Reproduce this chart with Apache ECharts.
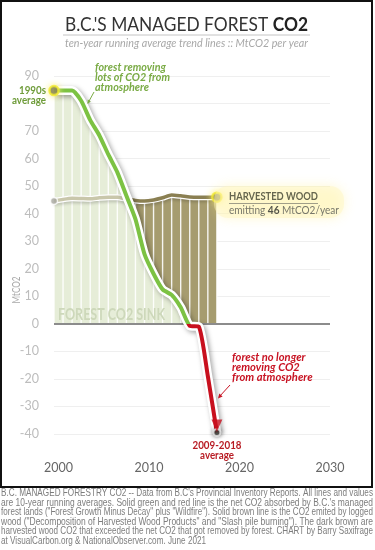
<!DOCTYPE html>
<html><head><meta charset="utf-8">
<script src="https://cdn.jsdelivr.net/npm/echarts@6/dist/echarts.min.js"></script>
<style>html,body{margin:0;padding:0;background:#fff;}#c{width:375px;height:550px;}</style>
</head><body><div id="c"></div>
<script>
// ---- DATA ----
const years = [2000,2001,2002,2003,2004,2005,2006,2007,2008,2009,2010,2011,2012,2013,2014,2015,2016,2017,2018];
const netForestCO2 = [84.7,84.7,84.7,81,74,68.5,61.5,55,46.5,38,25.3,18.2,12.5,10.5,6,-0.7,-1.0,-19,-39.5];
const harvestedWoodCO2 = [44.6,45.2,45.6,45.5,45.4,45.8,46.0,46.0,45.4,44.8,44.6,45.0,45.8,46.8,46.5,46.1,46.0,46.0,46.0];
const xTickLabels = [2000, 2010, 2020, 2030];
const yTickMin = -40, yTickMax = 90, yTickStep = 10;
const hiddenYLabel = 80;
const brownDarkFromYear = 2008.5;
const footnoteLines = [
  "B.C. MANAGED FORESTRY CO2 -- Data from B.C's Provincial Inventory Reports. All lines and values",
  "are 10-year running averages. Solid green and red line is the net CO2 absorbed by B.C.'s managed",
  "forest lands (\"Forest Growth Minus Decay\" plus \"Wildfire\"). Solid brown line is the CO2 emited by logged",
  "wood (\"Decomposition of Harvested Wood Products\" and \"Slash pile burning\"). The dark brown are",
  "harvested wood CO2 that exceeded the net CO2 that got removed by forest. CHART by Barry Saxifrage",
  "at VisualCarbon.org & NationalObserver.com. June 2021"
];

// running averages are plotted half a year before the end year
const X_SHIFT = -0.5;
const greenPts = years.map((y,i)=>[y+X_SHIFT, netForestCO2[i]]);
const greenAreaPts = years.map((y,i)=>[y+X_SHIFT, Math.max(0, netForestCO2[i])]);
const brownPts = years.map((y,i)=>[y+X_SHIFT, harvestedWoodCO2[i]]);
const stripePts = years.map((y,i)=>[y+X_SHIFT, Math.max(0, netForestCO2[i], harvestedWoodCO2[i])]);
const last = years.length-1;

// ---- text helpers ----
const mctx = document.createElement('canvas').getContext('2d');
function tw(text, font){ mctx.font = font; return mctx.measureText(text).width; }
function T(x, y, text, font, fill, o){
  o = o || {};
  const w = tw(text, font);
  const sx = o.width ? o.width / w : (o.scale || 1);
  return {type:'text', x, y, scaleX: sx, rotation: o.rotation || 0, z: 100, silent: true,
    style:{text, font, fill, textAlign: o.align || 'left', textVerticalAlign: 'middle'}};
}
function block(x, y0, lh, lines, font, fill, width, align){
  const ws = lines.map(l=>tw(l, font));
  const s = width / Math.max(...ws);
  return lines.map((l,i)=>T(x, y0+i*lh, l, font, fill, {scale:s, align}));
}
function segs(x, y, parts, width){
  const ws = parts.map(p=>tw(p.text, p.font));
  const s = width / ws.reduce((a,b)=>a+b,0);
  let cx = x; const out = [];
  parts.forEach((p,i)=>{ out.push(T(cx, y, p.text, p.font, p.fill, {scale:s})); cx += ws[i]*s; });
  return out;
}

const LATO = 'Lato, "Open Sans", sans-serif';
const graphics = [];
graphics.push({type:'rect', z: 100, silent:true, shape:{x:1,y:1,width:371,height:486}, style:{fill:'none', stroke:'#111', lineWidth:2}});
graphics.push(...segs(65, 25, [
  {text:"B.C.'S MANAGED FOREST ", font:'19px '+LATO, fill:'#333'},
  {text:'CO2', font:'bold 19px '+LATO, fill:'#222'}
], 243));
graphics.push({type:'line', z:100, silent:true, shape:{x1:63,y1:35,x2:310,y2:35}, style:{stroke:'#c4c4c4', lineWidth:1}});
graphics.push(T(65, 43.5, 'ten-year running average trend lines :: MtCO2 per year', 'italic 11px '+LATO, '#a8a8a8', {width:243}));
graphics.push(T(17, 290, 'MtCO2', '10.5px '+LATO, '#a8a8a8', {width:27, align:'center', rotation:Math.PI/2}));
graphics.push(...block(95, 67, 10.3, ['forest removing','lots of CO2 from','atmosphere'], 'italic bold 11.5px '+LATO, '#7aab45', 75));
graphics.push({type:'line', z:100, silent:true, shape:{x1:94,y1:92,x2:88,y2:103}, style:{stroke:'#7aab45', lineWidth:1}});
graphics.push({type:'polygon', z:100, silent:true, shape:{points:[[87.5,104],[87.8,99.5],[90.8,101.5]]}, style:{fill:'#7aab45'}});
graphics.push(...block(46, 90, 10, ['1990s','average'], 'bold 11px '+LATO, '#6f9c3a', 34, 'right'));
graphics.push({type:'rect', z:99, silent:true, shape:{x:214,y:186,width:130,height:32,r:14}, style:{fill:'rgba(255,246,190,0.45)', shadowBlur:12, shadowColor:'rgba(255,236,120,0.7)'}});
graphics.push(T(229, 196, 'HARVESTED WOOD', 'bold 11.5px '+LATO, '#66664f', {width:89}));
graphics.push({type:'line', z:100, silent:true, shape:{x1:229,y1:203.5,x2:318,y2:203.5}, style:{stroke:'#a09e88', lineWidth:1}});
graphics.push(...segs(229, 210, [
  {text:'emitting ', font:'11.5px '+LATO, fill:'#77776a'},
  {text:'46', font:'bold 11.5px '+LATO, fill:'#55554a'},
  {text:' MtCO2/year', font:'11.5px '+LATO, fill:'#77776a'}
], 110));
graphics.push(T(58, 314.5, 'FOREST CO2 SINK', 'bold 17px '+LATO, '#cdd8ba', {width:107}));
graphics.push(...block(232, 357, 10, ['forest no longer','removing CO2','from atmosphere'], 'italic bold 11.5px '+LATO, '#c81424', 80.6));
graphics.push({type:'line', z:100, silent:true, shape:{x1:230,y1:385,x2:219.5,y2:396.5}, style:{stroke:'#c81424', lineWidth:1}});
graphics.push({type:'polygon', z:100, silent:true, shape:{points:[[218,398.5],[219.3,393.5],[222.6,396.6]]}, style:{fill:'#c81424'}});
graphics.push(...block(217, 445, 9.8, ['2009-2018','average'], 'bold 11.5px '+LATO, '#b81c24', 49, 'center'));
const fnFont = '10.5px "Liberation Sans", Arial, sans-serif';
footnoteLines.forEach((l,i)=>{
  const isLast = i === footnoteLines.length-1;
  graphics.push(T(1, 493.5 + i*9.45, l, fnFont, '#7d7d7d', {width: isLast ? 205 : 372}));
});

const shadowGrey = 'rgba(0,0,0,0.35)';
const option = {
  animation: false,
  backgroundColor: '#fff',
  grid: {left: 54, right: 45, top: 76, bottom: 116, containLabel: false},
  xAxis: {
    type: 'value', min: 1999.5, max: 2030,
    axisLine: {show: false}, axisTick: {show: false}, splitLine: {show: false},
    axisLabel: {customValues: xTickLabels, formatter: v => String(v), color: '#666', fontSize: 12.5, fontFamily: LATO, margin: 27}
  },
  yAxis: {
    type: 'value', min: yTickMin, max: yTickMax, interval: yTickStep,
    axisLine: {show: false}, axisTick: {show: false},
    splitLine: {lineStyle: {color: '#efefef', width: 1}},
    axisLabel: {color: '#bdbdbd', fontSize: 12.5, fontFamily: LATO, margin: 15,
      formatter: v => v === hiddenYLabel ? '' : String(v)}
  },
  series: [
    {id:'brownArea', type:'line', data: brownPts, smooth: 0.2, symbol:'none', z:1, silent:true,
      lineStyle:{width:0}, areaStyle:{color:'#a69c6f', opacity:1}},
    {id:'greenArea', type:'line', data: greenAreaPts, smooth: 0.2, symbol:'none', z:2, silent:true,
      lineStyle:{width:0}, areaStyle:{color:'#e6edd8', opacity:1}},
    {id:'stripes', type:'bar', data: stripePts, barWidth: 1.4, z:3, silent:true,
      itemStyle:{color:'rgba(255,255,255,0.9)'},
      markLine:{silent:true, symbol:'none', label:{show:false},
        lineStyle:{color:'#8c8c8c', width:2, type:'solid'}, data:[{yAxis:0}]}},
    {id:'brownHalo', type:'line', data: brownPts, smooth: 0.2, symbol:'none', z:4, silent:true,
      lineStyle:{color:'#ffffff', width:6, shadowColor:'rgba(0,0,0,0.18)', shadowBlur:3, shadowOffsetY:2}},
    {id:'brownLine', type:'line', data: brownPts, smooth: 0.2, symbol:'none', z:5, silent:true,
      lineStyle:{width:3.5, color:'#8a7f52'}},
    {id:'greenHalo', type:'line', data: greenPts, smooth: 0.2, symbol:'none', z:6, silent:true,
      lineStyle:{color:'#ffffff', width:9, shadowColor: shadowGrey, shadowBlur:5, shadowOffsetX:2, shadowOffsetY:2}},
    {id:'greenLine', type:'line', data: greenPts, smooth: 0.2, symbol:'none', z:7, silent:true,
      lineStyle:{width:4, color:'#7cc243'}},
    {id:'dots', type:'scatter', z:8, silent:true, symbolSize: 8,
      data: [
        {value: brownPts[0], symbolSize: 7, itemStyle:{color:'#a8a8a0', borderColor:'#fff', borderWidth:1.5}},
        {value: greenPts[last], symbolSize: 7, itemStyle:{color:'#4a4a44', borderColor:'#e8e8e8', borderWidth:2, shadowBlur:4, shadowColor:'rgba(0,0,0,0.4)'}},
        {value: greenPts[0], symbolSize: 9, itemStyle:{color:'#48483c', borderColor:'#f3eb2c', borderWidth:2.5, shadowBlur:6, shadowColor:'#fff27a'}},
        {value: brownPts[last], symbolSize: 9, itemStyle:{color:'#48483c', borderColor:'#f3eb2c', borderWidth:2.5, shadowBlur:6, shadowColor:'#fff27a'}}
      ]},
    {id:'arrow', type:'scatter', z:9, silent:true,
      data: [{value: greenPts[last]}],
      symbol: 'path://M0,0 L12,0 L6,13 Z', symbolSize: [11, 12], symbolOffset: [0, -7],
      itemStyle:{color:'#c8101e'}}
  ],
  graphic: {elements: graphics}
};
const chart = echarts.init(document.getElementById('c'), null, {renderer:'canvas'});
chart.setOption(option);

// colour split: green above the zero line, red below; brown pale while under the green fill
const zeroY = chart.convertToPixel({gridIndex:0}, [2000, 0])[1];
const splitX = chart.convertToPixel({gridIndex:0}, [brownDarkFromYear + X_SHIFT, 0])[0];
function hardGrad(horizontal, p, c1, c2){
  return {type:'linear', global:true,
    x: horizontal ? p-1 : 0, y: horizontal ? 0 : p-1,
    x2: horizontal ? p+1 : 0, y2: horizontal ? 0 : p+1,
    colorStops:[{offset:0,color:c1},{offset:0.5,color:c1},{offset:0.5,color:c2},{offset:1,color:c2}]};
}
chart.setOption({series:[
  {id:'greenLine', lineStyle:{color: hardGrad(false, zeroY, '#7cc243', '#c8101e')}},
  {id:'brownLine', lineStyle:{color: hardGrad(true, splitX, '#c9c7ab', '#8a7f52')}}
]});
</script>
</body></html>
